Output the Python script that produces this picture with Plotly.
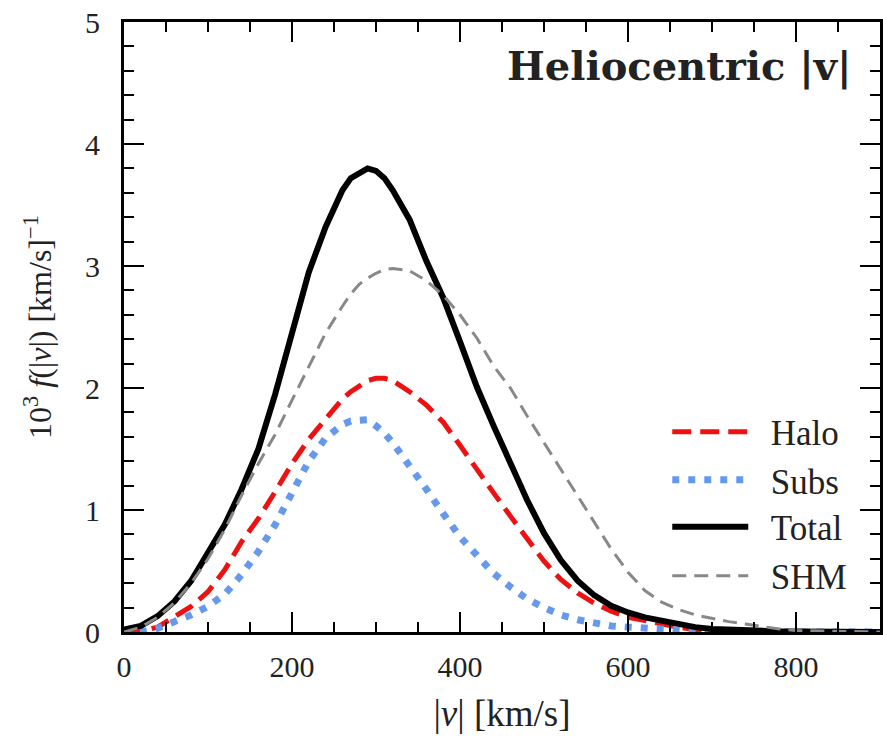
import plotly.graph_objects as go

# |v| grid in km/s
v = [0, 20, 40, 60, 80, 100, 120, 140, 160, 180, 200, 220, 240, 260, 270, 280, 290, 300,
     310, 320, 340, 360, 380, 400, 420, 440, 460, 480, 500, 520, 540, 560, 580, 600,
     620, 640, 660, 680, 700, 720, 740, 760, 780, 800, 850, 900]

total = [0.02, 0.05, 0.13, 0.25, 0.42, 0.64, 0.88, 1.17, 1.50, 1.95, 2.45, 2.95, 3.32, 3.62, 3.72, 3.76, 3.80, 3.78,
         3.72, 3.62, 3.38, 3.04, 2.74, 2.38, 2.01, 1.69, 1.38, 1.08, 0.81, 0.59, 0.42, 0.30, 0.215, 0.16,
         0.12, 0.09, 0.06, 0.04, 0.025, 0.018, 0.012, 0.008, 0.005, 0.004, 0.002, 0.0]

halo = [0.0, 0.005, 0.04, 0.12, 0.21, 0.33, 0.51, 0.74, 0.93, 1.15, 1.38, 1.58, 1.75, 1.91, 1.97, 2.02, 2.06, 2.08,
        2.08, 2.06, 1.97, 1.86, 1.72, 1.53, 1.33, 1.14, 0.95, 0.76, 0.58, 0.43, 0.32, 0.235, 0.17, 0.12,
        0.09, 0.065, 0.04, 0.02, 0.01, 0.006, 0.004, 0.003, 0.002, 0.0, 0.0, 0.0]

subs = [0.0, 0.0, 0.03, 0.08, 0.14, 0.21, 0.31, 0.47, 0.66, 0.88, 1.15, 1.40, 1.59, 1.70, 1.73, 1.74, 1.74, 1.69,
        1.63, 1.55, 1.37, 1.17, 0.97, 0.78, 0.63, 0.48, 0.37, 0.27, 0.20, 0.14, 0.10, 0.07, 0.05, 0.04,
        0.03, 0.02, 0.01, 0.005, 0.0, 0.0, 0.0, 0.0, 0.0, 0.0, 0.0, 0.0]

shm = [0.0, 0.04, 0.12, 0.24, 0.40, 0.60, 0.84, 1.12, 1.38, 1.62, 1.90, 2.17, 2.45, 2.67, 2.77, 2.85, 2.90, 2.94,
       2.97, 2.98, 2.96, 2.88, 2.76, 2.60, 2.41, 2.18, 2.00, 1.77, 1.55, 1.33, 1.11, 0.90, 0.68, 0.49,
       0.34, 0.245, 0.185, 0.14, 0.11, 0.085, 0.065, 0.045, 0.025, 0.012, 0.004, 0.0]

x_ticks = [0, 200, 400, 600, 800]
y_ticks = [0, 1, 2, 3, 4, 5]
x_range = [0, 900]
y_range = [0, 5]

SERIF = "Liberation Serif, DejaVu Serif, serif"
TXT = "#222222"
NB = "\u00a0\u00a0"

fig = go.Figure()
fig.add_trace(go.Scatter(x=v, y=halo, name=NB + "Halo", mode="lines", legend="legend",
                         line=dict(color="#ee1111", width=5, dash="19px,9px")))
fig.add_trace(go.Scatter(x=v, y=subs, name=NB + "Subs", mode="lines", legend="legend2",
                         line=dict(color="#6699ee", width=7, dash="7px,9px")))
fig.add_trace(go.Scatter(x=v, y=total, name=NB + "Total", mode="lines", legend="legend3",
                         line=dict(color="black", width=6)))
# SHM drawn on the mirrored (top/right) axes, which share identical ranges
fig.add_trace(go.Scatter(x=v, y=shm, name=NB + "SHM", mode="lines", legend="legend4",
                         xaxis="x2", yaxis="y2",
                         line=dict(color="#888888", width=3, dash="14px,8px")))

tick_common = dict(ticks="inside", tickcolor="black", tickwidth=2, ticklen=20)

fig.update_layout(
    xaxis=dict(range=x_range, tickvals=x_ticks, showgrid=False, zeroline=False,
               showline=True, linecolor="black", linewidth=3, automargin=False,
               minor=dict(dtick=50, ticks="inside", ticklen=10, tickwidth=2, tickcolor="black"),
               tickfont=dict(family=SERIF, size=30, color=TXT), ticklabelstandoff=6,
               title=dict(text="|<i>v</i>| [km/s]", font=dict(family=SERIF, size=37, color=TXT), standoff=19),
               **tick_common),
    yaxis=dict(range=y_range, tickvals=y_ticks, showgrid=False, zeroline=False,
               showline=True, linecolor="black", linewidth=3, automargin=False,
               minor=dict(dtick=0.2, ticks="inside", ticklen=10, tickwidth=2, tickcolor="black"),
               tickfont=dict(family=SERIF, size=30, color=TXT), ticklabelstandoff=15,
               **tick_common),
    xaxis2=dict(range=x_range, tickvals=x_ticks, overlaying="x", side="top", anchor="y2",
                showgrid=False, zeroline=False, showline=True, linecolor="black", linewidth=3,
                showticklabels=False, automargin=False,
                minor=dict(dtick=50, ticks="inside", ticklen=10, tickwidth=2, tickcolor="black"),
                **tick_common),
    yaxis2=dict(range=y_range, tickvals=y_ticks, overlaying="y", side="right", anchor="x2",
                showgrid=False, zeroline=False, showline=True, linecolor="black", linewidth=3,
                showticklabels=False, automargin=False,
                minor=dict(dtick=0.2, ticks="inside", ticklen=10, tickwidth=2, tickcolor="black"),
                **tick_common),
)

fig.add_annotation(text="10<sup>3</sup> <i>f</i>(|<i>v</i>|) [km/s]<sup>−1</sup>",
                   xref="paper", yref="paper", x=-0.1138, y=0.5, xanchor="center", yanchor="middle",
                   textangle=-90, showarrow=False, font=dict(family=SERIF, size=32, color=TXT))

fig.add_annotation(text="<b>Heliocentric |v|</b>", xref="paper", yref="paper",
                   x=0.966, y=0.928, xanchor="right", yanchor="middle", showarrow=False,
                   font=dict(family="DejaVu Serif, serif", size=40, color=TXT))

leg_common = dict(x=0.7186, xanchor="left", yanchor="middle", bgcolor="rgba(0,0,0,0)",
                  font=dict(family=SERIF, size=35, color=TXT), itemwidth=76)

fig.update_layout(
    width=883, height=747,
    margin=dict(l=124, r=3, t=22, b=115),
    plot_bgcolor="white", paper_bgcolor="white",
    showlegend=True,
    legend=dict(y=0.328, **leg_common),
    legend2=dict(y=0.249, **leg_common),
    legend3=dict(y=0.172, **leg_common),
    legend4=dict(y=0.092, **leg_common),
)

fig.write_html("out.html", config={"displayModeBar": False},
               post_script="document.body.style.margin='0';")
